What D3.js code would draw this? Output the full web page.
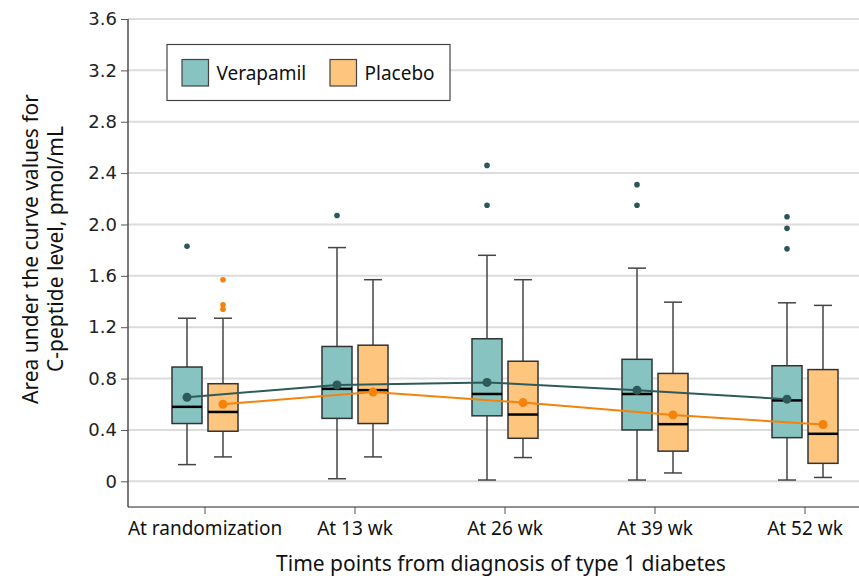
<!DOCTYPE html>
<html>
<head>
<meta charset="utf-8">
<script src="https://cdn.jsdelivr.net/npm/d3@7"></script>
<style>
  body { margin: 0; background: #fff; }
  svg { display: block; }
</style>
</head>
<body>
<div id="chart"></div>
<script>
// time points and y ticks
const timepoints = ["At randomization", "At 13 wk", "At 26 wk", "At 39 wk", "At 52 wk"];
const yTicks = [0, 0.4, 0.8, 1.2, 1.6, 2.0, 2.4, 2.8, 3.2, 3.6];

// verapamil box stats: [low whisker, q1, median, q3, high whisker]
const verapamilBoxes = [
  [0.13, 0.45, 0.58, 0.89, 1.27],
  [0.02, 0.49, 0.72, 1.05, 1.82],
  [0.01, 0.51, 0.68, 1.11, 1.76],
  [0.01, 0.40, 0.68, 0.95, 1.66],
  [0.01, 0.34, 0.63, 0.90, 1.39]
];
const verapamilMeans = [0.655, 0.75, 0.77, 0.71, 0.64];
const verapamilOutliers = [[1.83], [2.07], [2.46, 2.15], [2.31, 2.15], [2.06, 1.97, 1.81]];

// placebo
const placeboBoxes = [
  [0.19, 0.39, 0.54, 0.76, 1.27],
  [0.19, 0.45, 0.71, 1.06, 1.57],
  [0.185, 0.335, 0.52, 0.935, 1.57],
  [0.065, 0.235, 0.445, 0.84, 1.395],
  [0.03, 0.14, 0.37, 0.87, 1.37]
];
const placeboMeans = [0.60, 0.695, 0.613, 0.517, 0.442];
const placeboOutliers = [[1.57, 1.375, 1.34], [], [], [], []];

const W = 859, H = 579;
const svg = d3.select("#chart").append("svg").attr("width", W).attr("height", H);

const x = d3.scaleBand().domain(timepoints).range([130, 880]);
const y = d3.scaleLinear().domain([-0.2, 3.6]).range([507, 19]);

// gridlines
svg.append("g").selectAll("line").data(yTicks).enter().append("line")
  .attr("x1", 128).attr("x2", W)
  .attr("y1", d => y(d)).attr("y2", d => y(d))
  .attr("stroke", "#dcdcdc").attr("stroke-width", 2);

// y axis
const yAxis = d3.axisLeft(y).tickValues(yTicks).tickSize(7).tickPadding(4)
  .tickFormat(d => d === 0 ? "0" : d3.format(".1f")(d));
const gy = svg.append("g").attr("transform", "translate(128,0)").call(yAxis);
gy.select(".domain").attr("d", "M0," + y(3.6) + "V" + y(-0.2)).attr("stroke", "#222").attr("stroke-width", 1.2);
gy.selectAll(".tick line").attr("stroke", "#555");
gy.selectAll("text").attr("font-family", "DejaVu Sans").attr("font-size", 18).attr("fill", "#222");

// x axis
const xAxis = d3.axisBottom(x).tickSize(7).tickPadding(8);
const gx = svg.append("g").attr("transform", "translate(0," + y(-0.2) + ")").call(xAxis);
gx.select(".domain").attr("d", "M128,0H" + W).attr("stroke", "#222").attr("stroke-width", 1.2);
gx.selectAll(".tick line").attr("stroke", "#555");
gx.selectAll("text").attr("font-family", "Noto Sans").attr("font-size", 19).attr("fill", "#111");

const off = 18, bw = 30, capW = 18;

function drawGroup(boxes, outliers, sign, fill, dark) {
  const g = svg.append("g");
  const cx = (i) => x(timepoints[i]) + x.bandwidth() / 2 + sign * off;
  boxes.forEach((b, i) => {
    const c = cx(i);
    // whiskers
    g.append("line").attr("x1", c).attr("x2", c).attr("y1", y(b[0])).attr("y2", y(b[1]))
      .attr("stroke", "#444").attr("stroke-width", 1.5);
    g.append("line").attr("x1", c).attr("x2", c).attr("y1", y(b[3])).attr("y2", y(b[4]))
      .attr("stroke", "#444").attr("stroke-width", 1.5);
    [b[0], b[4]].forEach(v => {
      g.append("line").attr("x1", c - capW / 2).attr("x2", c + capW / 2)
        .attr("y1", y(v)).attr("y2", y(v)).attr("stroke", "#444").attr("stroke-width", 1.5);
    });
    g.append("rect").attr("x", c - bw / 2).attr("width", bw)
      .attr("y", y(b[3])).attr("height", y(b[1]) - y(b[3]))
      .attr("fill", fill).attr("stroke", "#333").attr("stroke-width", 1.5);
    g.append("line").attr("x1", c - bw / 2).attr("x2", c + bw / 2)
      .attr("y1", y(b[2])).attr("y2", y(b[2])).attr("stroke", "#000").attr("stroke-width", 2.5);
    outliers[i].forEach(v => {
      g.append("circle").attr("cx", c).attr("cy", y(v)).attr("r", 2.8).attr("fill", dark);
    });
  });
  return cx;
}

const cxV = drawGroup(verapamilBoxes, verapamilOutliers, -1, "#86c3c1", "#2b5756");
const cxP = drawGroup(placeboBoxes, placeboOutliers, 1, "#fec57e", "#f5820a");

// mean lines
function meanLine(means, cx, col) {
  const line = d3.line().x((d, i) => cx(i)).y(d => y(d));
  svg.append("path").datum(means).attr("d", line).attr("fill", "none")
    .attr("stroke", col).attr("stroke-width", 2);
  svg.append("g").selectAll("circle").data(means).enter().append("circle")
    .attr("cx", (d, i) => cx(i)).attr("cy", d => y(d)).attr("r", 4.5).attr("fill", col);
}
meanLine(verapamilMeans, cxV, "#2e5b5a");
meanLine(placeboMeans, cxP, "#f5820a");

// legend
const leg = svg.append("g");
leg.append("rect").attr("x", 167).attr("y", 44.5).attr("width", 283).attr("height", 56)
  .attr("fill", "#fff").attr("stroke", "#444").attr("stroke-width", 1.2);
const legItems = [
  { name: "Verapamil", fill: "#86c3c1", x: 182 },
  { name: "Placebo", fill: "#fec57e", x: 330 }
];
legItems.forEach(d => {
  leg.append("rect").attr("x", d.x).attr("y", 59.5).attr("width", 26.5).attr("height", 26.5)
    .attr("fill", d.fill).attr("stroke", "#444").attr("stroke-width", 1.2);
  leg.append("text").attr("x", d.x + 34.5).attr("y", 79.5).text(d.name)
    .attr("font-family", "Noto Sans").attr("font-size", 19).attr("fill", "#111");
});

// axis titles
svg.append("text").attr("x", 501).attr("y", 571).attr("text-anchor", "middle")
  .attr("font-family", "Noto Sans").attr("font-size", 21).attr("fill", "#111")
  .text("Time points from diagnosis of type 1 diabetes");
const yt = svg.append("text").attr("transform", "translate(0,249) rotate(-90)")
  .attr("text-anchor", "middle").attr("font-family", "Noto Sans").attr("font-size", 21).attr("fill", "#111");
yt.append("tspan").attr("x", 0).attr("y", 38).text("Area under the curve values for");
yt.append("tspan").attr("x", 0).attr("y", 63).text("C-peptide level, pmol/mL");
</script>
</body>
</html>
